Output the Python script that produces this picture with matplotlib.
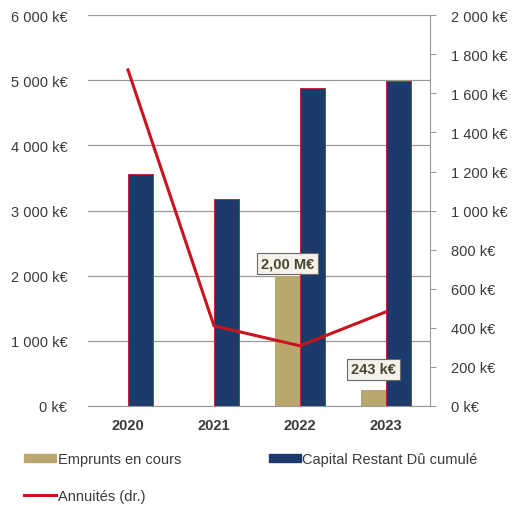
import numpy as np
import matplotlib.pyplot as plt
from matplotlib.ticker import FuncFormatter
from matplotlib.patches import Patch

plt.rcParams['font.family'] = ['Liberation Sans', 'DejaVu Sans']

years = ['2020', '2021', '2022', '2023']
emprunts = [0, 0, 2000, 243]          # k€, left axis
capital = [3560, 3175, 4880, 4985]    # k€, left axis
annuites = [1720, 410, 308, 482]      # k€, right axis
emprunt_labels = [None, None, '2,00 M€', '243 k€']

navy = '#1c3a6c'
gold = '#b8a870'
red = '#c8141e'
grid_col = '#9a9a9a'
txt_col = '#3a3a3a'
fs = 10.5


def keur(v, pos):
    return '{:,.0f} k€'.format(v).replace(',', ' ')


fig = plt.figure(figsize=(5.13, 5.06), dpi=100)
ax = fig.add_axes([0.1715, 0.1957, 0.6665, 0.7723])
x = np.arange(len(years))
w = 0.29

ax.bar(x - w / 2, emprunts, width=w, color=gold, edgecolor='none', zorder=2)
ax.bar(x + w / 2, capital, width=w, color=navy, edgecolor=red, linewidth=0.6, zorder=2)

ax.set_ylim(0, 6000)
ax.set_yticks(np.arange(0, 6001, 1000))
ax.yaxis.set_major_formatter(FuncFormatter(keur))
ax.set_xlim(-0.465, 3.51)
ax.set_xticks(x)
ax.set_xticklabels(years, fontweight='bold', fontsize=fs, color=txt_col)
ax.tick_params(axis='y', length=0, pad=15, labelsize=fs, labelcolor=txt_col)
ax.tick_params(axis='x', length=0, pad=9)
ax.grid(axis='y', color=grid_col, linewidth=0.9, zorder=0)
for s in ['top', 'left', 'right']:
    ax.spines[s].set_visible(False)
ax.spines['bottom'].set_color(grid_col)

# value boxes over the loans bars
offsets = [0, 0, 4, 10]
for xi, v, lab, off in zip(x, emprunts, emprunt_labels, offsets):
    if lab:
        ax.annotate(lab, (xi - w / 2, v), xytext=(0, off), textcoords='offset points',
                    ha='center', va='bottom', fontsize=fs, fontweight='bold',
                    color='#4a4632', zorder=5,
                    bbox=dict(boxstyle='square,pad=0.25', fc='#f4f2ea', ec='#6a6a6a', lw=0.8))

ax2 = ax.twinx()
ln, = ax2.plot(x, annuites, color=red, linewidth=2.2, zorder=4)
ax2.set_ylim(0, 2000)
ax2.set_yticks(np.arange(0, 2001, 200))
ax2.yaxis.set_major_formatter(FuncFormatter(keur))
ax2.tick_params(axis='y', length=4, color=grid_col, pad=11, labelsize=fs,
                labelcolor=txt_col)
for s in ['top', 'left', 'bottom']:
    ax2.spines[s].set_visible(False)
ax2.spines['right'].set_color(grid_col)

handles = [Patch(color=gold), ln, Patch(color=navy)]
labels = ['Emprunts en cours', 'Annuités (dr.)', 'Capital Restant Dû cumulé']
fig.legend(handles, labels, ncol=2, loc='upper left', bbox_to_anchor=(0.022, 0.13),
           frameon=False, fontsize=fs, handlelength=2.2, handleheight=0.45,
           handletextpad=0.1, columnspacing=6.0, labelspacing=1.55, labelcolor=txt_col)

fig.savefig('out.png', dpi=100)
